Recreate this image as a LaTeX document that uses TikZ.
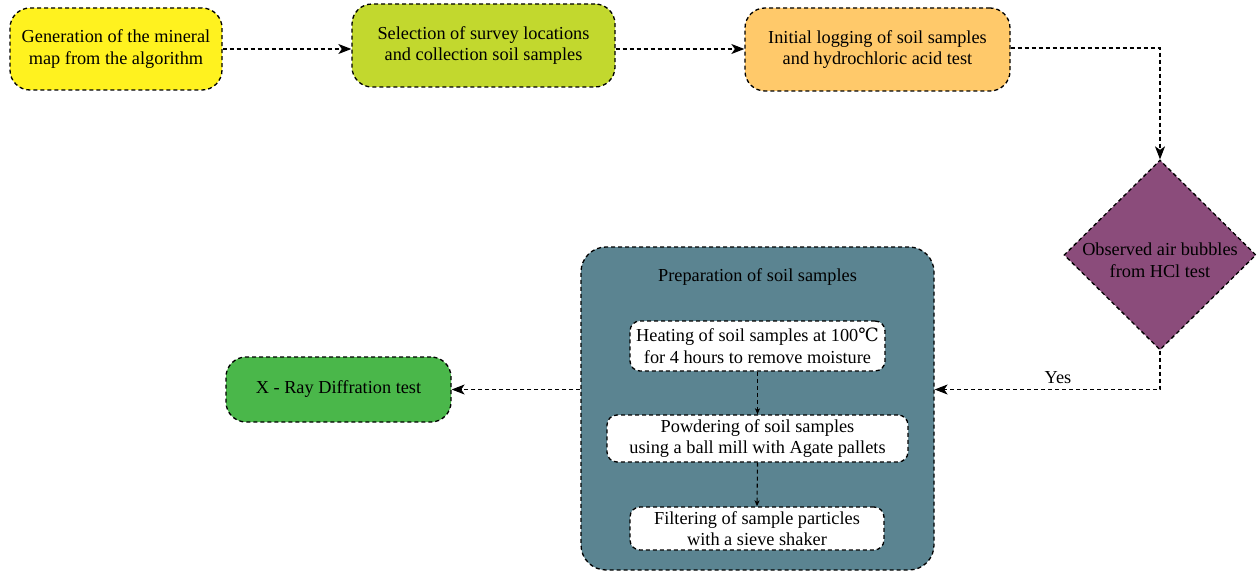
\documentclass[tikz,border=0pt]{standalone}
\usepackage{fontspec}
\setmainfont{Liberation Serif}
\newfontfamily\degfont{DejaVu Serif}
\usetikzlibrary{arrows.meta,shapes.geometric}
\definecolor{cyellow}{HTML}{FFF21F}
\definecolor{clime}{HTML}{C2D82E}
\definecolor{corange}{HTML}{FFC96A}
\definecolor{cpurple}{HTML}{8B4C7B}
\definecolor{cteal}{HTML}{5B8491}
\definecolor{cgreen}{HTML}{4AB74A}
\begin{document}
\begin{tikzpicture}[x=1pt,y=-1pt,
  dsh/.style={dash pattern=on 4pt off 3pt, line width=1.3pt},
  box/.style={draw=black, dsh, rounded corners=20pt, align=center,
    font=\fontsize{18.3}{21.5}\selectfont, inner sep=0pt},
  inbox/.style={box, fill=white, rounded corners=10pt},
  txt/.style={align=center, font=\fontsize{18.3}{21.5}\selectfont, inner sep=0pt},
  conn/.style={draw=black, dsh, line width=1.1pt, -{Stealth[length=13pt,width=10pt,inset=3.5pt]}},
  sconn/.style={draw=black, dsh, line width=1.1pt, -{Stealth[length=6pt,width=5pt,inset=1.5pt]}}
]
\useasboundingbox (0,0) rectangle (1258,572);

\node[box, fill=cyellow, minimum width=212pt, minimum height=82pt] (n1) at (116,49)
  {Generation of the mineral\\map from the algorithm};
\node[box, fill=clime, minimum width=263pt, minimum height=83pt] (n2) at (483.5,45.5)
  {Selection of survey locations\\and collection soil samples};
\node[box, fill=corange, minimum width=265pt, minimum height=83pt] (n3) at (877.5,49.5)
  {Initial logging of soil samples\\and hydrochloric acid test};

\node[draw=black, dsh, fill=cpurple, diamond, aspect=1, inner sep=0pt,
  minimum width=192pt, minimum height=190pt] (dia) at (1160,255) {};
\node[txt] (diat) at (1160,260) {Observed air bubbles\\from HCl test};

\node[box, fill=cteal, rounded corners=25pt, minimum width=353pt, minimum height=323pt] (cont) at (757.5,408.5) {};
\node[txt] (title) at (757.5,277) {Preparation of soil samples};

\node[inbox, minimum width=255pt, minimum height=50pt] (h1) at (757.5,346)
  {Heating of soil samples at 100{\degfont ℃}\\for 4 hours to remove moisture};
\node[inbox, minimum width=301pt, minimum height=47pt] (h2) at (757.5,438.5)
  {Powdering of soil samples\\using a ball mill with Agate pallets};
\node[inbox, minimum width=254pt, minimum height=43pt] (h3) at (757,528.5)
  {Filtering of sample particles\\with a sieve shaker};

\node[box, fill=cgreen, minimum width=225pt, minimum height=65pt] (xr) at (338.5,389.5)
  {X - Ray Diffration test};

\node[txt] (yes) at (1058,378) {Yes};

\draw[conn] (n1.east |- 0,49) -- (n2.west |- 0,49);
\draw[conn] (n2.east |- 0,49) -- (n3.west |- 0,49);
\draw[conn] (n3.east |- 0,48) -| (dia.north);
\draw[conn] (dia.south) |- (cont.east |- xr.east);
\draw[conn] (cont.west |- xr.east) -- (xr.east);
\draw[sconn] (h1.south) -- (h2.north);
\draw[sconn] (h2.south) -- (h3.north);
\end{tikzpicture}
\end{document}
